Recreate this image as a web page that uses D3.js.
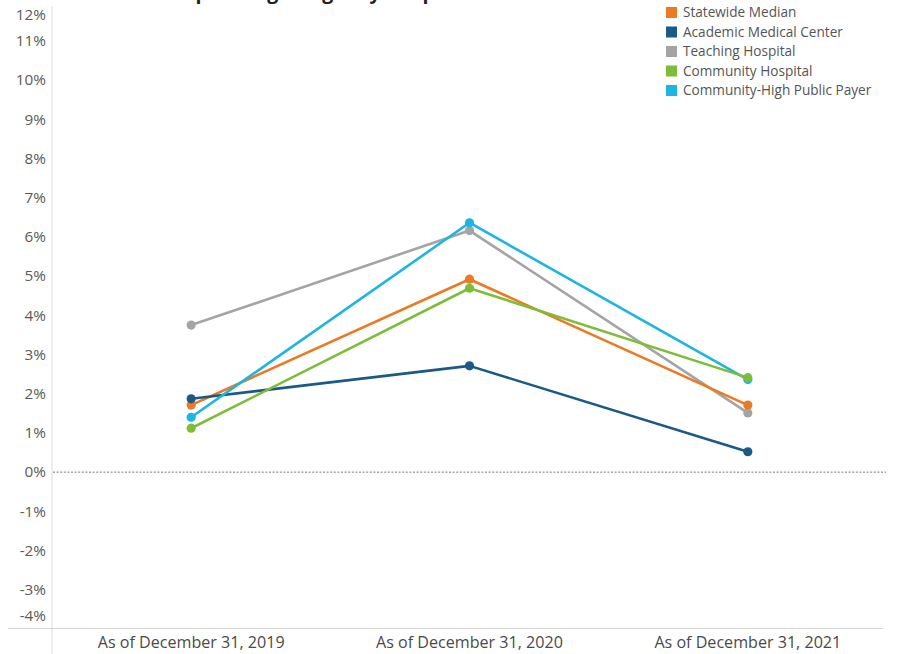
<!DOCTYPE html>
<html>
<head>
<meta charset="utf-8">
<script src="https://cdn.jsdelivr.net/npm/d3@7"></script>
<style>
  html, body { margin: 0; padding: 0; background: #fff; }
  svg { display: block; }
  text { font-family: "Open Sans", "Noto Sans", sans-serif; }
</style>
</head>
<body>
<svg id="chart" width="900" height="654"></svg>
<script>
// Reporting dates on the x axis
const periods = ["As of December 31, 2019", "As of December 31, 2020", "As of December 31, 2021"];

// Hospital cohorts, in legend order
const cohorts = ["Statewide Median", "Academic Medical Center", "Teaching Hospital", "Community Hospital", "Community-High Public Payer"];
const cohortColors = ["#EC7A22", "#1A5A84", "#A4A4A6", "#7DBE38", "#1DB5E2"];

// Median operating margin (%) per cohort, one value per period
const statewideMedian = [1.71, 4.92, 1.71];
const academicMedicalCenter = [1.87, 2.71, 0.52];
const teachingHospital = [3.75, 6.16, 1.51];
const communityHospital = [1.12, 4.69, 2.41];
const communityHighPublicPayer = [1.40, 6.36, 2.36];

// Y axis tick values (%)
const yTicks = [12, 11, 10, 9, 8, 7, 6, 5, 4, 3, 2, 1, 0, -1, -2, -3, -4];

const seriesValues = [statewideMedian, academicMedicalCenter, teachingHospital, communityHospital, communityHighPublicPayer];
const series = cohorts.map((name, i) => ({ name, color: cohortColors[i], values: seriesValues[i] }));

const svg = d3.select("#chart");
const W = 900, H = 654;
const plot = { left: 52, right: 887, top: 0, bottom: 629 };

const x = d3.scaleBand().domain(periods).range([plot.left, plot.right]);
const y = d3.scaleLinear().domain([-4, 12.04]).range([plot.bottom, plot.top]);

// Title (runs off the top edge of the view)
svg.append("text")
  .attr("x", 180).attr("y", -1)
  .attr("font-size", 19.5).attr("font-weight", 700).attr("fill", "#222")
  .text("Operating Margin by Hospital Cohort");

// Axis rules
svg.append("line")
  .attr("x1", plot.left).attr("x2", plot.left)
  .attr("y1", 6).attr("y2", H)
  .attr("stroke", "#e2e2e2").attr("stroke-width", 1.2);
svg.append("line")
  .attr("x1", 8).attr("x2", 883)
  .attr("y1", plot.bottom - 0.5).attr("y2", plot.bottom - 0.5)
  .attr("stroke", "#d6d6d6").attr("stroke-width", 1);

// Y tick labels, kept inside the plot at the edges
const yAxis = svg.append("g").attr("class", "y-axis");
yAxis.selectAll("text").data(yTicks).join("text")
  .attr("x", 46)
  .attr("y", d => Math.min(Math.max(y(d), 15), 616))
  .attr("dy", "0.35em")
  .attr("text-anchor", "end")
  .attr("font-size", 15.3)
  .attr("fill", "#5a5a5a")
  .text(d => d + "%");

// X labels
const xAxis = svg.append("g").attr("class", "x-axis");
xAxis.selectAll("text").data(periods).join("text")
  .attr("x", d => x(d) + x.bandwidth() / 2)
  .attr("y", 648)
  .attr("text-anchor", "middle")
  .attr("font-size", 16.1)
  .attr("fill", "#4a4a4a")
  .text(d => d);

// Zero reference line
svg.append("line")
  .attr("x1", plot.left + 1).attr("x2", plot.right - 1)
  .attr("y1", y(0)).attr("y2", y(0))
  .attr("stroke", "#777").attr("stroke-width", 1)
  .attr("stroke-dasharray", "2,1.6");

// Lines and points, drawn so the overlaps stack as shown
const drawOrder = [2, 0, 1, 4, 3];
const line = d3.line()
  .x((v, i) => x(periods[i]) + x.bandwidth() / 2)
  .y(v => y(v));

const gSeries = svg.append("g").selectAll("g")
  .data(drawOrder.map(i => series[i]))
  .join("g");

gSeries.append("path")
  .attr("d", d => line(d.values))
  .attr("fill", "none")
  .attr("stroke", d => d.color)
  .attr("stroke-width", 2.6)
  .attr("stroke-linejoin", "round");

gSeries.selectAll("circle")
  .data(d => d.values.map((v, i) => ({ v, i, color: d.color })))
  .join("circle")
  .attr("cx", d => x(periods[d.i]) + x.bandwidth() / 2)
  .attr("cy", d => y(d.v))
  .attr("r", 4.6)
  .attr("fill", d => d.color);

// Legend
const legend = svg.append("g").attr("transform", "translate(666,7)");
const rows = legend.selectAll("g").data(series).join("g")
  .attr("transform", (d, i) => `translate(0,${i * 19.5})`);
rows.append("rect")
  .attr("width", 11).attr("height", 11)
  .attr("fill", d => d.color);
rows.append("text")
  .attr("x", 17).attr("y", 5.5).attr("dy", "0.35em")
  .attr("font-size", 13.6)
  .attr("fill", "#555")
  .text(d => d.name);
</script>
</body>
</html>
